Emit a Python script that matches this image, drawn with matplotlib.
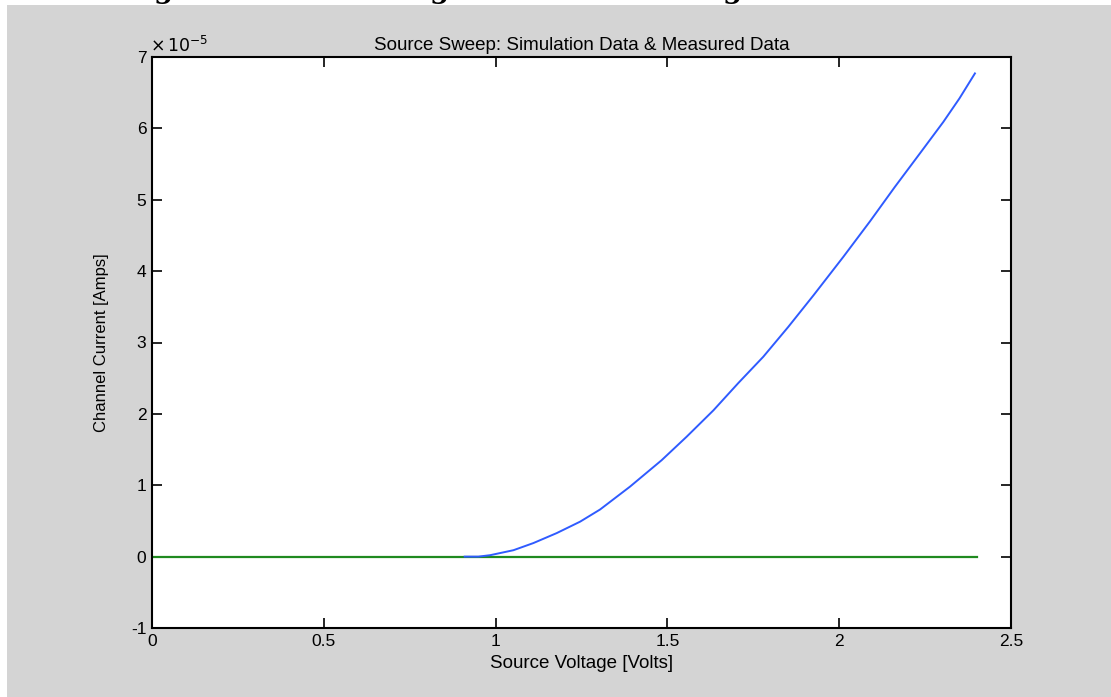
import matplotlib
matplotlib.use("Agg")
import matplotlib.pyplot as plt
from matplotlib.patches import Rectangle

plt.rcParams["axes.unicode_minus"] = False

# Simulation sweep (source voltage [V], channel current in units of 1e-5 A)
sim_v = [0.91, 0.95, 0.984, 1.052, 1.110, 1.178, 1.246, 1.304, 1.391, 1.483,
         1.556, 1.634, 1.706, 1.779, 1.852, 1.925, 2.012, 2.090, 2.162,
         2.235, 2.303, 2.350, 2.395]
sim_i = [0.0, 0.0, 0.02, 0.09, 0.19, 0.33, 0.49, 0.66, 0.98, 1.35,
         1.68, 2.05, 2.43, 2.80, 3.22, 3.66, 4.20, 4.70, 5.18,
         5.65, 6.09, 6.42, 6.77]

# Measured data (flat at zero)
meas_v = [0.0, 2.4]
meas_i = [0.0, 0.0]

xticks = [0, 0.5, 1, 1.5, 2, 2.5]
xticklabels = ["0", "0.5", "1", "1.5", "2", "2.5"]
yticks = [-1, 0, 1, 2, 3, 4, 5, 6, 7]

title = "Source Sweep: Simulation Data & Measured Data"
xlabel = "Source Voltage [Volts]"
ylabel = "Channel Current [Amps]"

W, H = 1111, 697
fig = plt.figure(figsize=(W / 100, H / 100), dpi=100, facecolor="white")
fig.patches.append(Rectangle((7 / W, 0), 1 - 7 / W, 1 - 5 / H,
                             transform=fig.transFigure, facecolor="#d4d4d4",
                             edgecolor="none", zorder=-10))

# cut-off bold text from the page above
for gx in [164, 440, 733]:
    fig.text(gx / W, 1.0 + 2 / H, "g", fontsize=20, fontweight="bold",
             ha="center", va="baseline", color="black", family="DejaVu Serif",
             zorder=-5)

font = "Liberation Sans"
ax = fig.add_axes([152 / W, (H - 628) / H, (1011 - 152) / W, (628 - 57) / H])
ax.set_zorder(1)
ax.set_facecolor("white")
ax.plot(meas_v, meas_i, color="#1f8a1f", lw=1.6, zorder=2)
ax.plot(sim_v, sim_i, color="#2f5bff", lw=1.4, zorder=3)

ax.set_xlim(0, 2.5)
ax.set_ylim(-1, 7)
ax.set_xticks(xticks)
ax.set_xticklabels(xticklabels)
ax.set_yticks(yticks)
ax.tick_params(direction="in", length=7, width=1.2, top=True, right=True,
               labelsize=12.5, pad=4, colors="black")
for lbl in ax.get_xticklabels() + ax.get_yticklabels():
    lbl.set_family(font)
for s in ax.spines.values():
    s.set_linewidth(1.5)
    s.set_color("black")

ax.set_title(title, fontsize=13.5, family=font, pad=5)
ax.set_xlabel(xlabel, fontsize=13.5, family=font, labelpad=5)
ax.set_ylabel(ylabel, fontsize=12, family=font, labelpad=16)
fig.text(150 / W, (H - 45) / H, r"$\times\,10^{-5}$", fontsize=12.5,
         family=font, ha="left", va="center")

fig.savefig("out.png", dpi=100, facecolor=fig.get_facecolor())
